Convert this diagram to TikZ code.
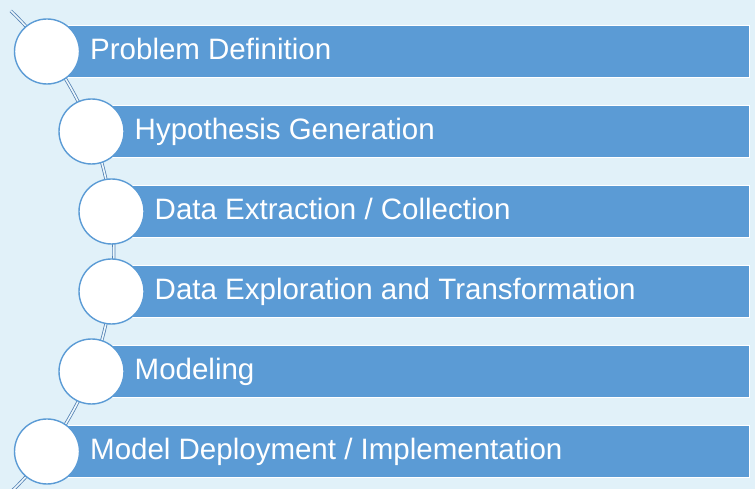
\documentclass[tikz,border=0pt]{standalone}
\usepackage{fontspec}
\setmainfont{Liberation Sans}
\definecolor{bgc}{RGB}{225,241,249}
\definecolor{barc}{RGB}{91,155,213}
\definecolor{arcc}{RGB}{84,130,180}
\begin{document}
\begin{tikzpicture}[x=1pt,y=1pt,
  stepbar/.style={fill=barc,draw=white,line width=1.2pt},
  stepcircle/.style={circle,fill=white,draw=barc,line width=1.4pt,minimum size=65pt,inner sep=0pt},
  steptext/.style={anchor=base west,text=white,inner sep=0pt,font=\fontsize{29.5}{34}\selectfont},
  arcline/.style={draw=arcc,line width=0.8pt,double=bgc!60!white,double distance=1.6pt}]
\useasboundingbox (0,0) rectangle (755,489);
\fill[bgc] (0,0) rectangle (755,489);
% arc behind circles
\draw[arcline] (-218.4,237.5) ++(46.4:332.3) arc[start angle=46.4, end angle=-51, radius=332.3];
\foreach \i/\cx/\txt in {0/47/{Problem Definition},1/91.5/{Hypothesis Generation},2/111.5/{Data Extraction / Collection},3/111.5/{Data Exploration and Transformation},4/91.5/{Modeling},5/47/{Model Deployment / Implementation}}{
  \pgfmathsetmacro{\cy}{489-51.5-80*\i}
  \path[stepbar] (\cx,\cy-26) rectangle (749.5,\cy+26);
  \node[stepcircle] (c\i) at (\cx,\cy) {};
  \node[steptext] (t\i) at (\cx+43,\cy-8) {\txt};
}
\end{tikzpicture}
\end{document}
